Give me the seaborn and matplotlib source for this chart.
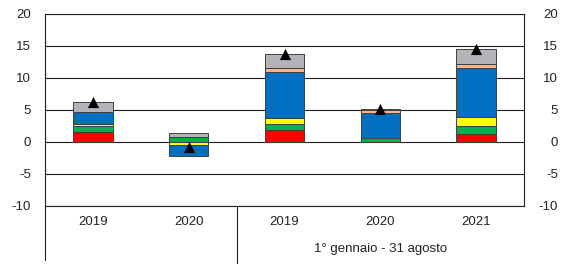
import numpy as np
import pandas as pd
import matplotlib
matplotlib.use("Agg")
import matplotlib.pyplot as plt
import seaborn as sns

sns.set_style("white")
plt.rcParams['font.family'] = ['Liberation Sans', 'DejaVu Sans']
plt.rcParams['axes.unicode_minus'] = False

# data (percentage points)
years = ["2019", "2020", "2019", "2020", "2021"]
group_label = "1° gennaio - 31 agosto"
red = [1.6, 0.0, 1.8, 0.0, 1.2]
green = [0.9, 0.75, 1.0, 0.65, 1.25]
yellow = [0.25, -0.4, 0.9, 0.0, 1.45]
blue = [2.0, -1.8, 7.2, 3.9, 7.6]
orange = [0.0, 0.0, 0.6, 0.5, 0.7]
gray = [1.5, 0.7, 2.2, 0.1, 2.3]
total = [6.3, -0.75, 13.7, 5.15, 14.5]

components = [
    (red, "#FF0000"),
    (green, "#00B050"),
    (yellow, "#FFFF00"),
    (blue, "#0070C0"),
    (orange, "#F8B48C"),
    (gray, "#B4B4B8"),
]

fig = plt.figure(figsize=(5.63, 2.64), dpi=100)
ax = fig.add_axes([45 / 563, 1 - 206 / 264, 479 / 563, 192 / 264])

pos = np.arange(len(years))
pos_base = np.zeros(len(years))
neg_base = np.zeros(len(years))
for values, col in components:
    vals = np.array(values, dtype=float)
    bottom = np.where(vals >= 0, pos_base, neg_base)
    df = pd.DataFrame({"x": pos, "y": vals})
    sns.barplot(data=df, x="x", y="y", bottom=bottom, color=col, saturation=1,
                width=0.41, edgecolor="#404040", linewidth=0.7, errorbar=None,
                ax=ax, zorder=3)
    pos_base = pos_base + np.where(vals >= 0, vals, 0)
    neg_base = neg_base + np.where(vals < 0, vals, 0)

sns.scatterplot(x=pos, y=total, marker="^", color="black", s=65,
                linewidth=0, ax=ax, zorder=5)

ax.set_xlim(-0.5, 4.5)
ax.set_ylim(-10, 20)
ax.set_yticks(range(-10, 21, 5))
ax.yaxis.grid(True, color="#202020", linewidth=0.8)
ax.set_axisbelow(True)
ax.set_xticks([])
ax.set_xlabel("")
ax.set_ylabel("")
ax.tick_params(axis="y", length=0, pad=10, labelsize=9.5, colors="#222222")
for s in ax.spines.values():
    s.set_color("#202020")
    s.set_linewidth(0.8)

ax2 = ax.twinx()
ax2.set_ylim(-10, 20)
ax2.set_yticks(range(-10, 21, 5))
ax2.tick_params(axis="y", length=0, pad=24.5, labelsize=9.5, colors="#222222")
for lab in ax2.get_yticklabels():
    lab.set_horizontalalignment("right")
for s in ax2.spines.values():
    s.set_visible(False)

# category labels and group separator under the plot
trans = ax.get_xaxis_transform()
for x, yr in zip(pos, years):
    ax.text(x, -0.085, yr, transform=trans, ha="center", va="center",
            fontsize=9.5, color="#222222")
ax.text(3, -0.225, group_label, transform=trans, ha="center", va="center",
        fontsize=9.5, color="#222222")
ax.plot([-0.5, -0.5], [0, -0.28], transform=trans, color="#202020",
        linewidth=0.8, clip_on=False)
ax.plot([1.5, 1.5], [0, -0.32], transform=trans, color="#202020",
        linewidth=0.8, clip_on=False)

fig.savefig("out.png", dpi=100)
